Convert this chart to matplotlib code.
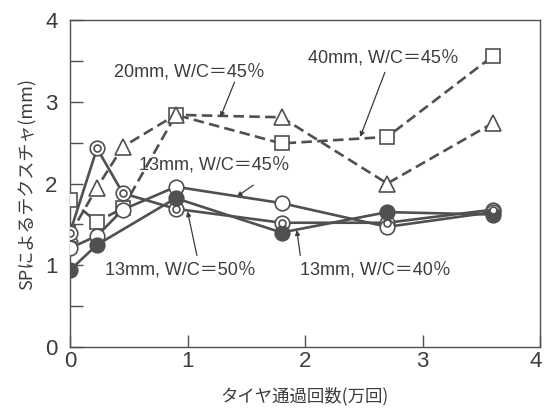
import matplotlib
matplotlib.use("Agg")
import matplotlib.pyplot as plt
import matplotlib.transforms as mtrans
from matplotlib import font_manager

plt.rcParams['font.family'] = ['Noto Sans CJK JP', 'DejaVu Sans']
names = sorted({f.name for f in font_manager.fontManager.ttflist})
narrow = 'Liberation Sans Narrow' if 'Liberation Sans Narrow' in names else 'Liberation Sans'

# data
x_all = [0, 0.23, 0.45, 0.9, 1.8, 2.7, 3.6]
sq_40mm = [1.80, 1.53, 1.70, 2.84, 2.49, 2.57, 3.56]
tri_20mm = [1.38, 1.95, 2.45, 2.84, 2.81, 2.00, 2.74]
open_13mm45 = [1.21, 1.36, 1.68, 1.96, 1.76, 1.47, 1.65]
dbl_13mm50 = [1.40, 2.43, 1.88, 1.69, 1.52, 1.52, 1.68]
x_filled = [0, 0.23, 0.9, 1.8, 2.7, 3.6]
fill_13mm40 = [0.94, 1.25, 1.82, 1.40, 1.65, 1.62]

xticks = [0, 1, 2, 3, 4]
yticks = [0, 1, 2, 3, 4]
xlabel = 'タイヤ通過回数(万回)'
ylabel = 'SPによるテクスチャ(mm)'

gray = '#505050'
tcol = '#3c3c3c'

fig = plt.figure(figsize=(5.44, 4.12), dpi=100)
ax = fig.add_axes([70/544, 1-347/412, (540-70)/544, (347-20)/412])

lw = 1.9
ms = 10.5
ax.plot(x_all, sq_40mm, color=gray, lw=lw, dashes=(4, 2), marker='s', ms=ms,
        mfc='white', mec=gray, mew=1.2, zorder=3)
ax.plot(x_all, tri_20mm, color=gray, lw=lw, dashes=(4, 2), marker='^', ms=ms+1,
        mfc='white', mec=gray, mew=1.2, zorder=3)
ax.plot(x_all, dbl_13mm50, color=gray, lw=lw, marker='o', ms=ms,
        mfc='white', mec=gray, mew=1.2, zorder=4)
ax.plot(x_all, dbl_13mm50, ls='none', marker='o', ms=5,
        mfc='white', mec=gray, mew=1.2, zorder=6)
ax.plot(x_all, open_13mm45, color=gray, lw=lw, marker='o', ms=ms,
        mfc='white', mec=gray, mew=1.2, zorder=4)
ax.plot(x_filled, fill_13mm40, color=gray, lw=lw, marker='o', ms=ms,
        mfc=gray, mec=gray, mew=1.2, zorder=5)

ap = dict(arrowstyle='-|>', lw=0.9, color=tcol, mutation_scale=7,
          shrinkA=0, shrinkB=0)
fs = 13
tf = [narrow, 'Noto Sans CJK JP']
labels = [
    ('20mm, W/C＝45％', (1.02, 3.36), (1.40, 3.24), (1.28, 2.81)),
    ('40mm, W/C＝45％', (2.67, 3.54), (2.68, 3.36), (2.47, 2.57)),
    ('13mm, W/C＝45％', (1.23, 2.23), (1.56, 1.98), (1.42, 1.84)),
    ('13mm, W/C＝50％', (0.94, 0.94), (1.08, 1.12), (1.00, 1.66)),
    ('13mm, W/C＝40％', (2.60, 0.94), (1.96, 1.12), (1.93, 1.43)),
]
for txt, tpos, astart, atip in labels:
    ax.annotate('', xy=atip, xytext=astart, arrowprops=ap)
    ax.text(tpos[0], tpos[1], txt, ha='center', va='center', fontsize=fs,
            color=tcol, family=tf)

ax.set_xlim(0, 4)
ax.set_ylim(0, 4)
ax.set_xticks(xticks)
ax.set_xticklabels([str(t) for t in xticks])
ax.set_yticks([0, 0.5, 1, 1.5, 2, 2.5, 3, 3.5, 4])
ax.set_yticklabels(['0', '', '1', '', '2', '', '3', '', '4'])
ax.tick_params(axis='both', direction='in', length=9, width=1, color=gray,
               labelcolor=tcol)
for lab in ax.get_xticklabels() + ax.get_yticklabels():
    lab.set_family(narrow)
    lab.set_fontsize(16)
ax.tick_params(axis='y', pad=9)
ax.tick_params(axis='x', pad=3)
last = ax.get_xticklabels()[-1]
last.set_transform(last.get_transform() + mtrans.ScaledTranslation(-4/100, 0, fig.dpi_scale_trans))
for s in ax.spines.values():
    s.set_color(gray)
    s.set_linewidth(1)

ax.set_xlabel(xlabel, fontsize=12.5, color=tcol, labelpad=11)
ax.set_ylabel(ylabel, fontsize=13, color=tcol, labelpad=6)

fig.savefig('out.png', dpi=100)
